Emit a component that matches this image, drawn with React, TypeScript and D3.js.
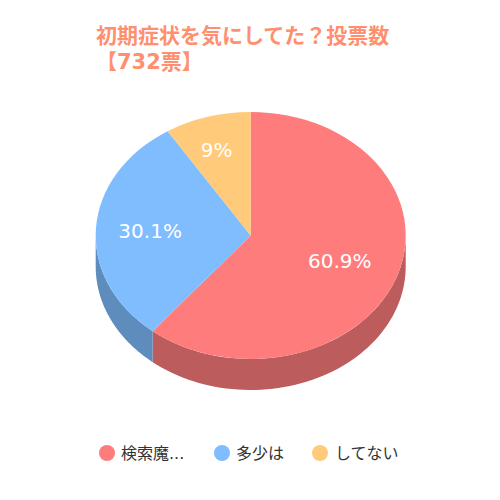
import React from "react";
import * as d3 from "d3";

const categories = ["検索魔...", "多少は", "してない"];
const values = [60.9, 30.1, 9];
const valueLabels = ["60.9%", "30.1%", "9%"];
const titleLines = ["初期症状を気にしてた？投票数", "【732票】"];

const colors = ["#ff7c7c", "#7fbdff", "#ffca7a"];
const sideColors = ["#bd5c5c", "#5e8cbd", "#bd965a"];
const font = '"DejaVu Sans", "Noto Sans CJK JP", sans-serif';

const cx = 250.7;
const cy = 235.5;
const rx = 155;
const ry = 123.5;
const depth = 31;

const slices = d3.pie<number>().sort(null)(values);
const arc = d3.arc<d3.PieArcDatum<number>>().innerRadius(0).outerRadius(rx);

// point on the top face ellipse, angle clockwise from 12 o'clock
const pt = (a: number, dy = 0): [number, number] => [
  cx + rx * Math.sin(a),
  cy + dy - ry * Math.cos(a),
];

// only the part of the rim facing us (between 3 and 9 o'clock) gets a wall
const wallPath = (s: d3.PieArcDatum<number>) => {
  const a0 = Math.max(s.startAngle, Math.PI / 2);
  const a1 = Math.min(s.endAngle, (Math.PI * 3) / 2);
  if (a1 <= a0) return null;
  const angles = d3.range(0, 61).map((i) => a0 + ((a1 - a0) * i) / 60);
  const pts = [
    ...angles.map((a) => pt(a)),
    ...angles.slice().reverse().map((a) => pt(a, depth)),
  ];
  return d3.line()(pts) + "Z";
};

// how far out each label sits, as a share of the radius
const labelFx = [0.61, 0.65, 0.786];
const labelFy = [0.61, 0.65, 0.72];

const legendX = [107, 222, 320];
const legendTextX = [121, 236, 335];

export default function App() {
  return (
    <svg
      width={500}
      height={500}
      style={{ position: "absolute", left: 0, top: 0 }}
      fontFamily={font}
    >
      <rect width={500} height={500} fill="#fff" />
      {titleLines.map((t, i) => (
        <text key={i} x={96} y={42.5 + i * 26} fontSize={21} fontWeight="bold" fill="#ff8f6e">
          {t}
        </text>
      ))}
      {slices.map((s, i) => {
        const d = wallPath(s);
        return d ? <path key={i} d={d} fill={sideColors[i]} /> : null;
      })}
      <g transform={`translate(${cx},${cy}) scale(1,${ry / rx})`}>
        {slices.map((s, i) => (
          <path key={i} d={arc(s) as string} fill={colors[i]} />
        ))}
      </g>
      {slices.map((s, i) => {
        const mid = (s.startAngle + s.endAngle) / 2;
        const x = cx + rx * labelFx[i] * Math.sin(mid);
        const y = cy - ry * labelFy[i] * Math.cos(mid);
        return (
          <text key={i} x={x} y={y} textAnchor="middle" dominantBaseline="central" fontSize={20} fill="#fff">
            {valueLabels[i]}
          </text>
        );
      })}
      {categories.map((c, i) => (
        <g key={i}>
          <circle cx={legendX[i]} cy={453} r={8} fill={colors[i]} />
          <text x={legendTextX[i]} y={453} dominantBaseline="central" fontSize={16} fill="#333">
            {c}
          </text>
        </g>
      ))}
    </svg>
  );
}
